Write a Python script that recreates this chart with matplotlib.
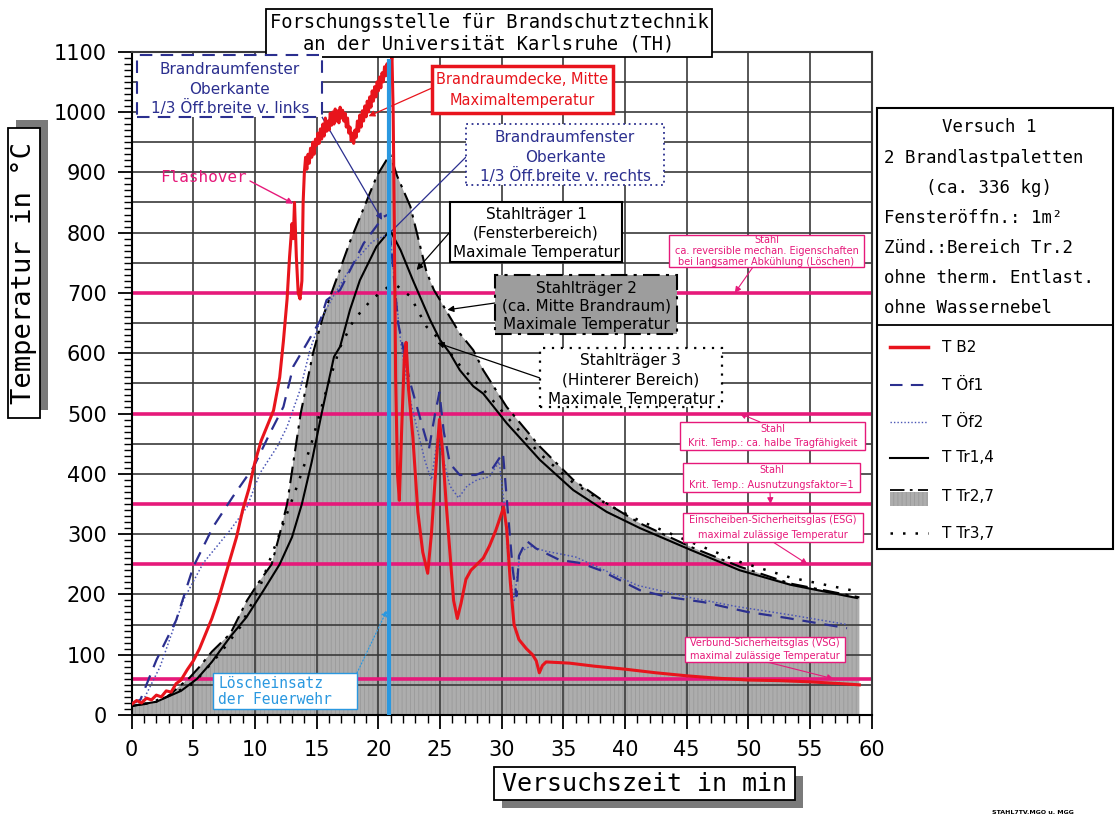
import numpy as np
import matplotlib
matplotlib.use("Agg")
import matplotlib.pyplot as plt
from matplotlib.patches import Rectangle
from matplotlib.lines import Line2D
from matplotlib.ticker import MultipleLocator

# ---- data (time in min, temperature in degC) ----
t_b2 = [0, 0.4, 0.8, 1.2, 1.6, 2.0, 2.4, 2.8, 3.2, 3.6, 4.0, 4.5, 5.0, 5.5, 6.0, 6.5,
        7.0, 7.5, 8.0, 8.5, 9.0, 9.5, 10.0, 10.5, 11.0, 11.5, 12.0, 12.3, 12.6,
        12.8, 13.0, 13.1, 13.2, 13.35, 13.5, 13.65, 13.8, 13.9,
        14.0, 14.1, 14.2, 14.3, 14.4, 14.5, 14.6, 14.7, 14.8, 14.9,
        15.0, 15.1, 15.2, 15.3, 15.4, 15.5, 15.6, 15.7, 15.8, 15.9,
        16.0, 16.1, 16.2, 16.3, 16.4, 16.5, 16.6, 16.7, 16.8, 16.9,
        17.0, 17.1, 17.2, 17.3, 17.4, 17.5, 17.6, 17.7, 17.8, 17.9,
        18.0, 18.1, 18.2, 18.3, 18.4, 18.5, 18.6, 18.7, 18.8, 18.9,
        19.0, 19.1, 19.2, 19.3, 19.4, 19.5, 19.6, 19.7, 19.8, 19.9,
        20.0, 20.1, 20.2, 20.3, 20.4, 20.5, 20.6, 20.7, 20.8, 20.9,
        21.0, 21.1, 21.2, 21.3,
        21.4, 21.55, 21.7, 21.9, 22.1, 22.25, 22.45, 22.8, 23.2, 23.6, 24.0, 24.3,
        24.7, 24.95, 25.2, 25.5, 25.8, 26.1, 26.4, 26.7, 27.1, 27.5, 28.0, 28.5,
        29.0, 29.5, 30.0, 30.15, 30.4, 30.7, 31.0, 31.4, 32.0, 32.5, 32.8, 33.05,
        33.3, 33.6, 34.5, 35.5, 37.5, 40.0, 42.5, 45.0, 47.5, 50.0, 52.5, 55.0,
        57.5, 59.0]
T_b2 = [18, 24, 20, 28, 25, 33, 30, 40, 38, 52, 58, 75, 90, 110, 135, 160,
        190, 225, 260, 295, 340, 375, 420, 455, 480, 505, 560, 620, 690,
        760, 815, 790, 850, 760, 700, 690, 720, 850,
        900, 925, 905, 930, 915, 940, 925, 950, 930, 955,
        945, 965, 948, 972, 955, 980, 960, 990, 968, 985,
        970, 998, 978, 1000, 980, 1005, 985, 1002, 982, 1008,
        990, 1003, 985, 998, 975, 990, 965, 975, 952, 965,
        948, 970, 958, 985, 968, 995, 975, 1002, 985, 1010,
        992, 1018, 1000, 1025, 1008, 1035, 1018, 1042, 1025, 1050,
        1035, 1058, 1040, 1065, 1050, 1075, 1060, 1080, 1062, 1075,
        1068, 1095, 1000, 800,
        560, 400, 356, 480, 590, 618, 540, 460, 337, 270, 235, 300,
        420, 490, 440, 350, 270, 190, 160, 185, 225, 240, 250, 260,
        280, 305, 335, 345, 310, 220, 150, 125, 110, 100, 90, 70,
        82, 88, 87, 86, 81, 76, 70, 65, 61, 58, 57, 55,
        52, 50]

t_of1 = [0, 0.7, 2.0, 3.6, 5.0, 6.6, 8.2, 9.9, 11.2, 12.3, 13.1, 14.2, 15.3, 15.8,
         16.9, 18.8, 20.4, 20.8, 21.2, 21.6, 22.0, 22.5, 23.5, 24.1, 24.6, 24.95,
         25.3, 25.8, 26.6, 27.9, 29.3, 30.1, 30.5, 30.9, 31.2, 31.4, 32.0, 32.8,
         34.7, 36.4, 38.0, 41.2, 43.4, 46.4, 49.9, 53.1, 58.0]
T_of1 = [20, 25, 91, 157, 246, 312, 362, 412, 467, 511, 578, 616, 655, 688,
         705, 782, 826, 830, 740, 650, 610, 557, 484, 441, 500, 535,
         470, 417, 398, 398, 410, 435, 337, 240, 197, 264, 289, 276,
         257, 252, 240, 207, 196, 187, 171, 161, 144]

t_of2 = [0, 0.95, 2.3, 4.2, 5.8, 8.0, 9.35, 10.4, 11.8, 12.6, 13.65, 14.45, 15.3,
         16.5, 18.0, 19.5, 20.95, 21.3, 21.8, 22.5, 23.2, 23.8, 24.3, 24.8, 25.2,
         25.8, 26.5, 27.2, 28.0, 29.0, 29.8, 30.2, 30.6, 31.0, 31.5, 32.3, 33.5,
         36.0, 41.0, 45.0, 49.0, 53.4, 58.0]
T_of2 = [18, 25, 80, 191, 252, 307, 345, 401, 445, 478, 539, 605, 655,
         700, 750, 785, 799, 720, 620, 530, 470, 420, 390, 460, 430,
         380, 360, 380, 390, 395, 420, 350, 240, 190, 270, 280, 272,
         262, 215, 196, 180, 166, 150]

t_tr14 = [0, 2, 4, 5.3, 6.5, 8.0, 9.3, 10.7, 12.0, 13.0, 13.8, 14.6, 15.4, 16.4,
          16.9, 17.7, 18.5, 19.85, 20.95, 21.8, 22.8, 24.2, 25.0, 25.8, 26.6,
          27.7, 28.5, 30.4, 33.1, 35.8, 38.5, 41.2, 45.3, 49.3, 53.4, 58.8]
T_tr14 = [15, 22, 40, 60, 88, 130, 162, 207, 250, 295, 350, 420, 500, 594,
          611, 672, 721, 777, 804, 771, 721, 655, 622, 600, 572,
          545, 533, 484, 423, 373, 337, 310, 274, 240, 216, 194]

t_tr27 = [0, 1, 2, 3, 4, 4.7, 5.5, 6.5, 8.0, 9.35, 10.3, 11.35, 12.0, 12.6, 13.7,
          14.7, 15.5, 16.2, 17.7, 19.9, 20.95, 21.5, 22.6, 23.9, 24.5, 25.0,
          25.8, 26.6, 27.7, 28.5, 30.4, 33.1, 35.8, 38.5, 41.2, 45.3, 49.3,
          53.4, 58.8, 59.0]
T_tr27 = [15, 18, 22, 32, 50, 62, 80, 105, 135, 190, 220, 250, 300, 350, 500,
          600, 660, 700, 785, 895, 930, 895, 843, 735, 705, 688,
          660, 633, 605, 572, 511, 445, 390, 351, 318, 279, 246,
          218, 196, 195]

t_tr37 = [0, 1.5, 3, 5, 7.2, 8.8, 10.4, 12.0, 13.4, 14.5, 15.8, 16.9, 18.0, 19.5,
          20.8, 21.5, 22.6, 23.9, 25.0, 26.6, 28.5, 30.4, 33.1, 35.8, 38.5, 41.2,
          45.3, 49.3, 53.4, 58.8]
T_tr37 = [15, 20, 32, 52, 103, 146, 213, 301, 379, 445, 540, 610, 655, 690,
          710, 712, 694, 644, 622, 580, 540, 495, 433, 385, 350, 322,
          287, 254, 228, 205]

limit_lines = [700, 500, 350, 250, 60]
t_loesch = 20.9

RED = '#e8141c'
NAVY = '#2b2f8f'
PINK = '#e6197a'
LBLUE = '#2a98e0'
GRAY = '#adadad'
HATCH = '#9a9a9a'

plt.rcParams['hatch.linewidth'] = 0.6
plt.rcParams['hatch.color'] = HATCH

W, H = 1116, 826
fig = plt.figure(figsize=(W / 100, H / 100), dpi=100)
ax = fig.add_axes([131.7 / W, 1 - 715 / H, 740 / W, 663.3 / H])


def px(x, y):
    return x / W, 1 - y / H


def rect(x0, y0, x1, y1, **kw):
    r = Rectangle((x0 / W, 1 - y1 / H), (x1 - x0) / W, (y1 - y0) / H,
                  transform=fig.transFigure, **kw)
    fig.add_artist(r)


def ftext(x, y, s, **kw):
    kw.setdefault('ha', 'center')
    kw.setdefault('va', 'center')
    fig.text(x / W, 1 - y / H, s, **kw)


def leader(x, y, t, T, color, lw=1.0, head=True, ls='-'):
    ax.annotate('', xy=(t, T), xytext=px(x, y), textcoords='figure fraction',
                arrowprops=dict(arrowstyle='-|>' if head else '-', color=color,
                                lw=lw, ls=ls, shrinkA=0, shrinkB=0,
                                mutation_scale=9))


# gray area of Tr2,7
ax.fill_between(t_tr27, 0, T_tr27, facecolor=GRAY, edgecolor=HATCH,
                hatch='||||', linewidth=0, zorder=1)

# grid
for v in range(50, 1101, 50):
    ax.axhline(v, color='#3a3a3a', lw=1.2, zorder=1.5)
for v in range(5, 61, 5):
    ax.axvline(v, color='#3a3a3a', lw=1.2, zorder=1.5)

for v in limit_lines:
    ax.axhline(v, color=PINK, lw=2.6, zorder=2)

ax.plot(t_tr27, T_tr27, color='black', lw=1.5, ls=(0, (8, 3, 1.5, 3)), zorder=3)
ax.plot(t_tr14, T_tr14, color='black', lw=1.5, zorder=3)
ax.plot(t_tr37, T_tr37, color='black', lw=1.8, ls=(0, (1, 4)), zorder=3)
ax.plot(t_of2, T_of2, color='#4a55b5', lw=1.1, ls=(0, (1, 1.5)), zorder=3.5)
ax.plot(t_of1, T_of1, color=NAVY, lw=1.6, ls=(0, (6, 4)), zorder=3.5)
ax.plot(t_b2, T_b2, color=RED, lw=2.2, zorder=4)
ax.vlines(t_loesch, 0, 1088, color=LBLUE, lw=3, zorder=5)

ax.set_xlim(0, 60)
ax.set_ylim(0, 1100)
ax.xaxis.set_major_locator(MultipleLocator(5))
ax.xaxis.set_minor_locator(MultipleLocator(1))
ax.yaxis.set_major_locator(MultipleLocator(100))
ax.yaxis.set_minor_locator(MultipleLocator(10))
ax.tick_params(which='major', direction='out', length=10, width=1.3, labelsize=15,
               pad=8)
ax.tick_params(which='minor', direction='out', length=6, width=1.0)
for sp in ax.spines.values():
    sp.set_linewidth(1.5)
ax.spines['top'].set_color('#3a3a3a')
ax.spines['right'].set_color('#3a3a3a')

MONO = 'DejaVu Sans Mono'

# title box
rect(266, 9, 712, 57, fc='white', ec='black', lw=1.3, zorder=6)
ftext(489, 22, 'Forschungsstelle für Brandschutztechnik', family=MONO, fontsize=13.5, zorder=7)
ftext(489, 44, 'an der Universität Karlsruhe (TH)', family=MONO, fontsize=13.5, zorder=7)

# axis label boxes with shadow
rect(16, 120, 48, 410, fc='#7a7a7a', ec='none', zorder=5)
rect(8, 128, 40, 418, fc='white', ec='black', lw=1.3, zorder=6)
ftext(24, 273, 'Temperatur in °C', family=MONO, fontsize=19.5, rotation=90, zorder=7)
rect(502, 776, 803, 808, fc='#7a7a7a', ec='none', zorder=5)
rect(494, 767, 795, 800, fc='white', ec='black', lw=1.3, zorder=6)
ftext(644, 784, 'Versuchszeit in min', family=MONO, fontsize=18, zorder=7)

# annotation boxes
rect(137, 55, 322, 117, fc='white', ec=NAVY, lw=1.5, ls=(0, (6, 4)), zorder=6)
ftext(230, 69, 'Brandraumfenster', color=NAVY, fontsize=11, zorder=7)
ftext(230, 89, 'Oberkante', color=NAVY, fontsize=11, zorder=7)
ftext(230, 108, '1/3 Öff.breite v. links', color=NAVY, fontsize=11, zorder=7)
leader(322, 117, 20.3, 821, NAVY, lw=0.9)

rect(432, 66, 613, 113, fc='white', ec=RED, lw=2.5, zorder=6)
ftext(522, 79, 'Brandraumdecke, Mitte', color=RED, fontsize=10.5, zorder=7)
ftext(522, 101, 'Maximaltemperatur', color=RED, fontsize=10.5, zorder=7)
leader(432, 88, 19.2, 993, RED, lw=0.9)

rect(466, 124, 664, 185, fc='white', ec=NAVY, lw=1.3, ls=(0, (1, 2)), zorder=6)
ftext(565, 137, 'Brandraumfenster', color=NAVY, fontsize=11, zorder=7)
ftext(565, 157, 'Oberkante', color=NAVY, fontsize=11, zorder=7)
ftext(565, 176, '1/3 Öff.breite v. rechts', color=NAVY, fontsize=11, zorder=7)
leader(466, 157, 20.95, 800, NAVY, lw=0.9, head=False)

rect(450, 202, 622, 262, fc='white', ec='black', lw=1.5, zorder=6)
for yy, s in zip([214, 233, 252], ['Stahlträger 1', '(Fensterbereich)', 'Maximale Temperatur']):
    ftext(536, yy, s, fontsize=11, zorder=7)
leader(450, 232, 23.1, 738, 'black', lw=0.9)

rect(495, 275, 677, 334, fc='#9d9d9d', ec='black', lw=1.5, ls=(0, (8, 3, 1.5, 3)), zorder=6)
for yy, s in zip([288, 306, 325], ['Stahlträger 2', '(ca. Mitte Brandraum)', 'Maximale Temperatur']):
    ftext(586, yy, s, fontsize=11, zorder=7)
leader(495, 303, 25.6, 672, 'black', lw=0.9)

rect(540, 348, 722, 407, fc='white', ec='black', lw=1.6, ls=(0, (1, 3)), zorder=6)
for yy, s in zip([361, 380, 399], ['Stahlträger 3', '(Hinterer Bereich)', 'Maximale Temperatur']):
    ftext(631, yy, s, fontsize=11, zorder=7)
leader(540, 378, 24.8, 617, 'black', lw=0.9)

# pink limit notes
pink_notes = [
    ((669, 235, 864, 267), ['Stahl', 'ca. reversible mechan. Eigenschaften',
                            'bei langsamer Abkühlung (Löschen)'], (753, 267, 48.9, 700)),
    ((680, 422, 865, 450), ['Stahl', 'Krit. Temp.: ca. halbe Tragfähigkeit'], (760, 422, 49.3, 500)),
    ((683, 463, 860, 492), ['Stahl', 'Krit. Temp.: Ausnutzungsfaktor=1'], (770, 492, 51.8, 350)),
    ((683, 513, 863, 542), ['Einscheiben-Sicherheitsglas (ESG)',
                            'maximal zulässige Temperatur'], (773, 542, 54.8, 250)),
    ((685, 637, 845, 662), ['Verbund-Sicherheitsglas (VSG)',
                            'maximal zulässige Temperatur'], (767, 662, 56.9, 60)),
]
for (x0, y0, x1, y1), lines, (lx, ly, lt, lT) in pink_notes:
    rect(x0, y0, x1, y1, fc='white', ec=PINK, lw=1.0, zorder=6)
    n = len(lines)
    step = (y1 - y0) / n
    for i, s in enumerate(lines):
        ftext((x0 + x1) / 2, y0 + step * (i + 0.5), s, color=PINK, fontsize=7, zorder=7)
    leader(lx, ly, lt, lT, PINK, lw=0.8)

ftext(203, 178, 'Flashover', color=PINK, family=MONO, fontsize=11.5, zorder=7)
leader(250, 181, 13.1, 848, PINK, lw=1.0)

rect(213, 673, 357, 709, fc='white', ec=LBLUE, lw=1.0, zorder=6)
ftext(218, 683, 'Löscheinsatz', color=LBLUE, family=MONO, fontsize=10.5, ha='left', zorder=7)
ftext(218, 700, 'der Feuerwehr', color=LBLUE, family=MONO, fontsize=10.5, ha='left', zorder=7)
leader(357, 673, 20.7, 174, LBLUE, lw=0.9, ls=':')

# info + legend box
rect(877, 108, 1113, 549, fc='white', ec='black', lw=1.5, zorder=6)
fig.add_artist(Line2D([877 / W, 1113 / W], [1 - 325 / H, 1 - 325 / H],
                      transform=fig.transFigure, color='black', lw=1.3, zorder=7))
info = [('Versuch 1', 'c'), ('2 Brandlastpaletten', 'l'), ('(ca. 336 kg)', 'c'),
        ('Fensteröffn.: 1m²', 'l'), ('Zünd.:Bereich Tr.2', 'l'),
        ('ohne therm. Entlast.', 'l'), ('ohne Wassernebel', 'l')]
for (s, al), yy in zip(info, [127, 158, 188, 218, 248, 278, 308]):
    if al == 'c':
        ftext(989, yy, s, family=MONO, fontsize=12.5, zorder=7)
    else:
        ftext(884, yy, s, family=MONO, fontsize=12.5, ha='left', zorder=7)

leg_y = [347, 385, 422, 458, 497, 533]
leg_lab = ['T B2', 'T Öf1', 'T Öf2', 'T Tr1,4', 'T Tr2,7', 'T Tr3,7']
leg_sty = [dict(color=RED, lw=2.5), dict(color=NAVY, lw=1.5, ls=(0, (6, 4))),
           dict(color='#4a55b5', lw=1.0, ls=(0, (1, 1.5))), dict(color='black', lw=1.5),
           dict(color='black', lw=1.3, ls=(0, (8, 3, 1.5, 3))),
           dict(color='black', lw=1.8, ls=(0, (1, 4)))]
for yy, lab, sty in zip(leg_y, leg_lab, leg_sty):
    ly = yy - 7 if lab == 'T Tr2,7' else yy
    fig.add_artist(Line2D([890 / W, 928 / W], [1 - ly / H, 1 - ly / H],
                          transform=fig.transFigure, zorder=7, **sty))
    ftext(942, yy, lab, fontsize=11, ha='left', zorder=7)
rect(890, 492, 928, 506, fc=GRAY, ec=HATCH, hatch='||||', lw=0, zorder=7)

ftext(1033, 812, 'STAHL7TV.MGO u. MGG', fontsize=4.5, fontweight='bold', zorder=7)

fig.savefig('out.png', dpi=100)
